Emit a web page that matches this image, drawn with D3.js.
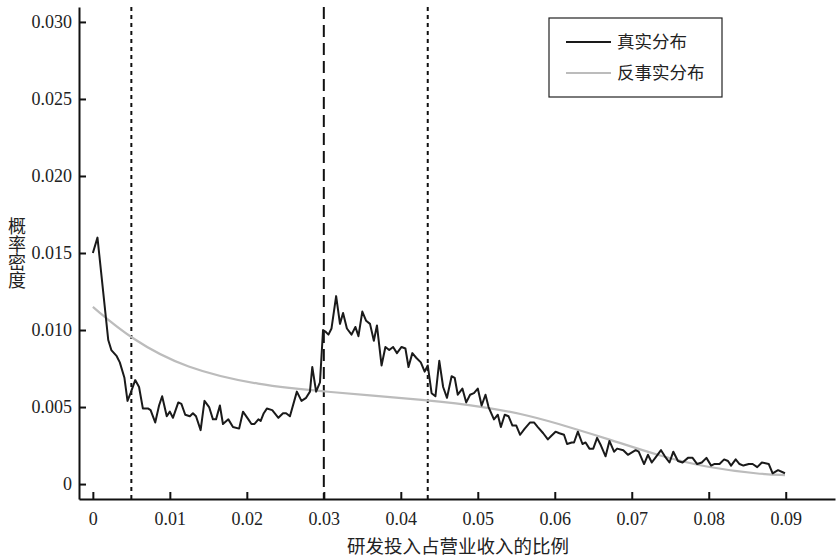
<!DOCTYPE html>
<html>
<head>
<meta charset="utf-8">
<script src="https://cdn.jsdelivr.net/npm/d3@7"></script>
<style>
  body { margin: 0; background: #fff; }
  .num { font-family: "Liberation Serif", "DejaVu Serif", serif; font-size: 18px; fill: #222; }
  .cjk { font-family: "Noto Sans CJK SC", sans-serif; fill: #222; }
</style>
</head>
<body>
<svg id="chart" width="836" height="558"></svg>
<script>
// real distribution (x = R&D / revenue ratio, y = density)
let realX = [0.0000, 0.0006, 0.0020, 0.0024, 0.0031, 0.0035, 0.0041, 0.0045, 0.0049, 0.0055,
    0.0060, 0.0065, 0.0072, 0.0075, 0.0081, 0.0086, 0.0090, 0.0096, 0.0100, 0.0104,
    0.0111, 0.0115, 0.0120, 0.0126, 0.0130, 0.0134, 0.0140, 0.0145, 0.0151, 0.0156,
    0.0160, 0.0165, 0.0169, 0.0176, 0.0182, 0.0190, 0.0195, 0.0202, 0.0206, 0.0210,
    0.0215, 0.0218, 0.0222, 0.0226, 0.0233, 0.0241, 0.0247, 0.0251, 0.0256, 0.0265,
    0.0271, 0.0277, 0.0282, 0.0285, 0.0290, 0.0295, 0.0299, 0.0302, 0.0306, 0.0310,
    0.0316, 0.0321, 0.0325, 0.0330, 0.0336, 0.0341, 0.0345, 0.0350, 0.0355, 0.0360,
    0.0365, 0.0369, 0.0375, 0.0380, 0.0385, 0.0390, 0.0395, 0.0401, 0.0406, 0.0410,
    0.0415, 0.0420, 0.0426, 0.0431, 0.0435, 0.0440, 0.0445, 0.0450, 0.0455, 0.0460,
    0.0466, 0.0470, 0.0474, 0.0480, 0.0485, 0.0490, 0.0495, 0.0500, 0.0505, 0.0510,
    0.0514, 0.0521, 0.0526, 0.0530, 0.0535, 0.0540, 0.0545, 0.0550, 0.0555, 0.0561,
    0.0568, 0.0573, 0.0578, 0.0585, 0.0591, 0.0595, 0.0601, 0.0606, 0.0612, 0.0616,
    0.0622, 0.0625, 0.0630, 0.0636, 0.0640, 0.0645, 0.0650, 0.0655, 0.0660, 0.0666,
    0.0671, 0.0677, 0.0681, 0.0689, 0.0695, 0.0705, 0.0709, 0.0716, 0.0721, 0.0726,
    0.0732, 0.0738, 0.0743, 0.0749, 0.0754, 0.0760, 0.0766, 0.0773, 0.0779, 0.0785,
    0.0791, 0.0797, 0.0803, 0.0807, 0.0814, 0.0820, 0.0825, 0.0829, 0.0835, 0.0840,
    0.0845, 0.0852, 0.0857, 0.0863, 0.0869, 0.0878, 0.0883, 0.0890, 0.0899];
let realY = [0.0150, 0.0160, 0.00935, 0.0087, 0.0083, 0.0079, 0.0069, 0.0054, 0.0059, 0.00675,
    0.0063, 0.0049, 0.0049, 0.0048, 0.0040, 0.0051, 0.0057, 0.0044, 0.0047, 0.0043,
    0.0053, 0.0052, 0.0045, 0.0044, 0.0046, 0.0044, 0.0035, 0.0054, 0.0050, 0.0042,
    0.0042, 0.0051, 0.0039, 0.0042, 0.0037, 0.0036, 0.0047, 0.0042, 0.0039, 0.0039,
    0.0042, 0.0041, 0.0046, 0.0049, 0.0048, 0.0043, 0.0046, 0.0046, 0.0044, 0.0060,
    0.0054, 0.0056, 0.0060, 0.0076, 0.0060, 0.0066, 0.0100, 0.0099, 0.0097, 0.0101,
    0.0122, 0.0104, 0.0111, 0.0101, 0.0097, 0.0102, 0.0096, 0.0112, 0.0106, 0.0104,
    0.0093, 0.0103, 0.0077, 0.0089, 0.0087, 0.0089, 0.0085, 0.0089, 0.0088, 0.0076,
    0.0085, 0.0082, 0.0079, 0.0073, 0.0077, 0.0059, 0.0057, 0.0080, 0.0063, 0.0056,
    0.0070, 0.0069, 0.0058, 0.0062, 0.0053, 0.0058, 0.0059, 0.0062, 0.0051, 0.0058,
    0.0050, 0.0042, 0.0045, 0.0037, 0.0045, 0.0044, 0.0038, 0.0038, 0.0032, 0.0036,
    0.0040, 0.0040, 0.0037, 0.0033, 0.0029, 0.0031, 0.0034, 0.0033, 0.0032, 0.0026,
    0.0027, 0.0027, 0.0034, 0.0026, 0.0027, 0.0023, 0.0023, 0.0030, 0.0025, 0.0018,
    0.0028, 0.0021, 0.0023, 0.0022, 0.0019, 0.0022, 0.0021, 0.0013, 0.0019, 0.0014,
    0.0018, 0.0022, 0.0018, 0.0014, 0.0021, 0.0015, 0.0014, 0.0017, 0.0017, 0.0013,
    0.0014, 0.0017, 0.0012, 0.0013, 0.0013, 0.0016, 0.0015, 0.0012, 0.0016, 0.0013,
    0.0012, 0.0013, 0.0013, 0.0011, 0.0014, 0.0013, 0.0007, 0.0009, 0.0007];

// counterfactual distribution (smooth)
let cfX = [0, 0.005, 0.012, 0.0217, 0.03, 0.0438, 0.0511, 0.0567, 0.0619, 0.0671, 0.0736, 0.0801, 0.0866, 0.0899];
let cfY = [0.0115, 0.0094, 0.0075, 0.0064, 0.0060, 0.00545, 0.0050, 0.00445, 0.0037, 0.0029, 0.00182, 0.00104, 0.00065, 0.00058];

// reference lines
let vLines = [0.005, 0.03, 0.0435];

let xTicks = [0, 0.01, 0.02, 0.03, 0.04, 0.05, 0.06, 0.07, 0.08, 0.09];
let xTickLabels = ["0", "0.01", "0.02", "0.03", "0.04", "0.05", "0.06", "0.07", "0.08", "0.09"];
let yTicks = [0, 0.005, 0.010, 0.015, 0.020, 0.025, 0.030];
let yTickLabels = ["0", "0.005", "0.010", "0.015", "0.020", "0.025", "0.030"];

let legendNames = ["真实分布", "反事实分布"];
let xTitle = "研发投入占营业收入的比例";
let yTitle = "概率密度";

let svg = d3.select("#chart");

let x = d3.scaleLinear().domain([-0.0018, 0.0964]).range([79, 835]);
let y = d3.scaleLinear().domain([-0.00097, 0.03097]).range([499, 7]);

// axes
let xAxis = d3.axisBottom(x)
    .tickValues(xTicks)
    .tickFormat((d, i) => xTickLabels[i])
    .tickSizeInner(-7).tickSizeOuter(0).tickPadding(13);

let yAxis = d3.axisLeft(y)
    .tickValues(yTicks)
    .tickFormat((d, i) => yTickLabels[i])
    .tickSizeInner(-7).tickSizeOuter(0).tickPadding(7);

let gx = svg.append("g")
    .attr("transform", "translate(0," + y.range()[0] + ")")
    .call(xAxis);
let gy = svg.append("g")
    .attr("transform", "translate(" + x.range()[0] + ",0)")
    .call(yAxis);

[gx, gy].forEach(g => {
    g.select(".domain").attr("stroke", "#111").attr("stroke-width", 2);
    g.selectAll(".tick line").attr("stroke", "#111").attr("stroke-width", 2);
    g.selectAll(".tick text").attr("class", "num").attr("fill", null);
    g.attr("font-family", null).attr("font-size", null);
});

// vertical reference lines
svg.append("g").selectAll("line")
    .data(vLines).enter()
    .append("line")
    .attr("x1", d => x(d)).attr("x2", d => x(d))
    .attr("y1", y.range()[1]).attr("y2", y.range()[0])
    .attr("stroke", "#111")
    .attr("stroke-width", 2)
    .attr("stroke-dasharray", (d, i) => i === 1 ? "12,6" : "4,4");

// lines
svg.append("path")
    .datum(cfX.map((v, i) => [v, cfY[i]]))
    .attr("d", d3.line().x(d => x(d[0])).y(d => y(d[1])).curve(d3.curveBasis))
    .attr("fill", "none")
    .attr("stroke", "#bcbcbc")
    .attr("stroke-width", 2.2);

svg.append("path")
    .datum(realX.map((v, i) => [v, realY[i]]))
    .attr("d", d3.line().x(d => x(d[0])).y(d => y(d[1])))
    .attr("fill", "none")
    .attr("stroke", "#1a1a1a")
    .attr("stroke-width", 2)
    .attr("stroke-linejoin", "round");

// legend
let legend = svg.append("g").attr("transform", "translate(549,18)");
legend.append("rect")
    .attr("width", 173).attr("height", 79)
    .attr("fill", "#fff").attr("stroke", "#222").attr("stroke-width", 1.2);
let legendColors = ["#1a1a1a", "#bcbcbc"];
legendNames.forEach((name, i) => {
    let ly = 24 + i * 31;
    legend.append("line")
        .attr("x1", 17).attr("x2", 62)
        .attr("y1", ly).attr("y2", ly)
        .attr("stroke", legendColors[i]).attr("stroke-width", 2);
    legend.append("text")
        .attr("class", "cjk")
        .attr("x", 68).attr("y", ly)
        .attr("dy", "0.35em")
        .style("font-size", "17.5px")
        .text(name);
});

// axis titles
svg.append("text")
    .attr("class", "cjk")
    .attr("x", 458).attr("y", 553)
    .attr("text-anchor", "middle")
    .style("font-size", "18.5px")
    .text(xTitle);

svg.append("text")
    .attr("class", "cjk")
    .attr("x", 17).attr("y", 217)
    .style("writing-mode", "vertical-rl")
    .style("font-size", "18px")
    .text(yTitle);
</script>
</body>
</html>
